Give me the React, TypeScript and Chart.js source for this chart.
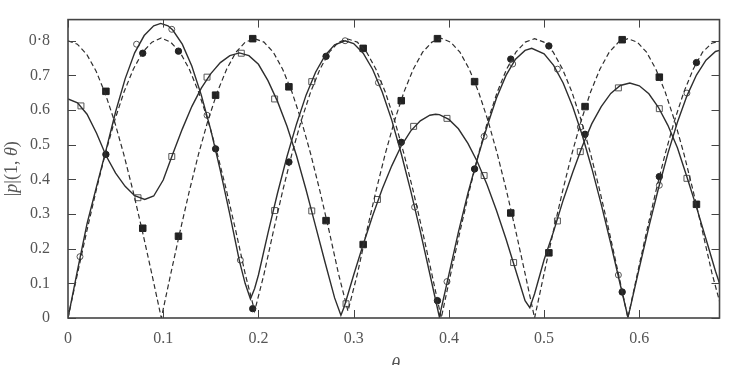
import React, { useEffect, useRef } from 'react';
import { Chart, registerables } from 'chart.js';

Chart.register(...registerables);

// ---- axis ----
const X_MAX = 0.6842;
const Y_MAX = 0.861;
const xTickValues = [0, 0.1, 0.2, 0.3, 0.4, 0.5, 0.6];
const xTickLabels = ['0', '0.1', '0.2', '0.3', '0.4', '0.5', '0.6'];
const yTickValues = [0, 0.1, 0.2, 0.3, 0.4, 0.5, 0.6, 0.7, 0.8];
const yTickLabels = ['0', '0.1', '0.2', '0.3', '0.4', '0.5', '0.6', '0.7', '0·8'];

// ---- dashed curves (shared theta grid) ----
const thetaGrid = [
  0, 0.0098, 0.0196, 0.0294, 0.0392, 0.049, 0.0588, 0.0686, 0.0784, 0.0882,
  0.098, 0.1078, 0.1176, 0.1274, 0.1372, 0.147, 0.1568, 0.1666, 0.1764, 0.1862,
  0.196, 0.2058, 0.2156, 0.2254, 0.2352, 0.245, 0.2548, 0.2646, 0.2744, 0.2842,
  0.294, 0.3038, 0.3136, 0.3234, 0.3332, 0.343, 0.3528, 0.3626, 0.3724, 0.3822,
  0.392, 0.4018, 0.4116, 0.4214, 0.4312, 0.441, 0.4508, 0.4606, 0.4704, 0.4802,
  0.49, 0.4998, 0.5096, 0.5194, 0.5292, 0.539, 0.5488, 0.5586, 0.5684, 0.5782,
  0.588, 0.5978, 0.6076, 0.6174, 0.6272, 0.637, 0.6468, 0.6566, 0.6664, 0.6762,
  0.686,
];
const dashedA = [
  0.8, 0.79, 0.761, 0.713, 0.647, 0.566, 0.47, 0.363, 0.247, 0.125,
  0.0, 0.126, 0.249, 0.366, 0.474, 0.57, 0.652, 0.718, 0.767, 0.796,
  0.806, 0.796, 0.767, 0.718, 0.652, 0.57, 0.474, 0.366, 0.249, 0.126,
  0.02, 0.126, 0.249, 0.366, 0.474, 0.57, 0.652, 0.718, 0.767, 0.796,
  0.807, 0.796, 0.767, 0.718, 0.652, 0.57, 0.474, 0.366, 0.249, 0.126,
  0.0, 0.126, 0.249, 0.366, 0.474, 0.57, 0.652, 0.718, 0.767, 0.796,
  0.806, 0.796, 0.767, 0.718, 0.652, 0.57, 0.474, 0.366, 0.249, 0.13,
  0.03,
];
const dashedB = [
  0.0, 0.126, 0.249, 0.366, 0.474, 0.57, 0.652, 0.718, 0.767, 0.796,
  0.808, 0.796, 0.767, 0.718, 0.652, 0.57, 0.474, 0.366, 0.249, 0.126,
  0.02, 0.126, 0.249, 0.366, 0.474, 0.57, 0.652, 0.718, 0.767, 0.796,
  0.805, 0.796, 0.767, 0.718, 0.652, 0.57, 0.474, 0.366, 0.249, 0.126,
  0.0, 0.126, 0.249, 0.366, 0.474, 0.57, 0.652, 0.718, 0.767, 0.796,
  0.806, 0.796, 0.767, 0.718, 0.652, 0.57, 0.474, 0.366, 0.249, 0.126,
  0.0, 0.126, 0.249, 0.366, 0.474, 0.57, 0.652, 0.718, 0.767, 0.793,
  0.8,
];

// ---- solid curve 1 (open circles) ----
const solidOneTheta = [
  0, 0.01, 0.02, 0.03, 0.04, 0.05, 0.06, 0.07, 0.08, 0.09, 0.0974,
  0.105, 0.11, 0.12, 0.13, 0.14, 0.15, 0.16, 0.17, 0.18, 0.186, 0.1916,
  0.196, 0.2, 0.21, 0.22, 0.23, 0.24, 0.25, 0.26, 0.27, 0.28, 0.291,
  0.3, 0.31, 0.32, 0.33, 0.34, 0.35, 0.36, 0.37, 0.38, 0.39,
  0.4, 0.41, 0.42, 0.43, 0.44, 0.45, 0.46, 0.47, 0.48, 0.487,
  0.5, 0.51, 0.52, 0.53, 0.54, 0.55, 0.56, 0.57, 0.58, 0.588,
  0.59, 0.6, 0.61, 0.62, 0.63, 0.64, 0.65, 0.66, 0.67, 0.68, 0.6842,
];
const solidOne = [
  0, 0.138, 0.272, 0.38, 0.485, 0.595, 0.69, 0.765, 0.815, 0.843, 0.85,
  0.843, 0.831, 0.79, 0.727, 0.643, 0.542, 0.425, 0.298, 0.165, 0.1, 0.055,
  0.085, 0.124, 0.245, 0.36, 0.466, 0.56, 0.643, 0.709, 0.758, 0.788, 0.8,
  0.792, 0.764, 0.717, 0.652, 0.571, 0.474, 0.366, 0.25, 0.127, 0.003,
  0.125, 0.248, 0.36, 0.46, 0.552, 0.635, 0.7, 0.747, 0.772, 0.778,
  0.762, 0.729, 0.678, 0.61, 0.528, 0.433, 0.328, 0.215, 0.096, 0.003,
  0.024, 0.145, 0.263, 0.373, 0.475, 0.565, 0.641, 0.701, 0.744, 0.769, 0.772,
];

// ---- solid curve 2 (open squares) ----
const solidTwoTheta = [
  0, 0.01, 0.02, 0.03, 0.04, 0.05, 0.06, 0.07, 0.0806, 0.09,
  0.1, 0.11, 0.12, 0.13, 0.14, 0.15, 0.16, 0.17, 0.18, 0.19,
  0.2, 0.21, 0.22, 0.23, 0.24, 0.25, 0.26, 0.27, 0.28, 0.2866,
  0.29, 0.3, 0.31, 0.32, 0.33, 0.34, 0.35, 0.36, 0.37, 0.38, 0.386,
  0.39, 0.4, 0.41, 0.42, 0.43, 0.44, 0.45, 0.46, 0.47, 0.48, 0.485,
  0.49, 0.5, 0.51, 0.52, 0.53, 0.54, 0.55, 0.56, 0.57, 0.58, 0.59,
  0.6, 0.61, 0.62, 0.63, 0.64, 0.65, 0.66, 0.67, 0.68, 0.6842,
];
const solidTwo = [
  0.632, 0.621, 0.588, 0.533, 0.468, 0.418, 0.38, 0.353, 0.342, 0.352,
  0.398, 0.473, 0.545, 0.61, 0.663, 0.705, 0.737, 0.757, 0.765, 0.757,
  0.732, 0.685, 0.625, 0.553, 0.468, 0.37, 0.265, 0.16, 0.058, 0.008,
  0.032, 0.124, 0.212, 0.296, 0.372, 0.439, 0.497, 0.54, 0.569, 0.585, 0.588,
  0.587, 0.573, 0.546, 0.504, 0.45, 0.385, 0.31, 0.228, 0.139, 0.05, 0.03,
  0.07, 0.168, 0.25, 0.34, 0.42, 0.495, 0.56, 0.61, 0.648, 0.671, 0.678,
  0.67, 0.647, 0.608, 0.556, 0.491, 0.407, 0.32, 0.228, 0.135, 0.1,
];

// ---- markers ----
const openCircleTheta = [0.0126, 0.072, 0.109, 0.146, 0.181, 0.291, 0.326, 0.364, 0.398, 0.437, 0.467, 0.514, 0.538, 0.578, 0.621, 0.65];
const openCircleP = [0.177, 0.79, 0.833, 0.585, 0.167, 0.8, 0.679, 0.32, 0.105, 0.524, 0.733, 0.718, 0.551, 0.124, 0.383, 0.649];

const openSquareTheta = [0.0136, 0.0735, 0.109, 0.146, 0.182, 0.217, 0.217, 0.256, 0.256, 0.292, 0.325, 0.363, 0.398, 0.437, 0.468, 0.514, 0.538, 0.578, 0.621, 0.65];
const openSquareP = [0.612, 0.347, 0.466, 0.695, 0.764, 0.632, 0.31, 0.682, 0.309, 0.041, 0.342, 0.553, 0.576, 0.411, 0.16, 0.28, 0.48, 0.664, 0.604, 0.403];

const filledCircleTheta = [0.0398, 0.0785, 0.116, 0.155, 0.194, 0.232, 0.271, 0.35, 0.388, 0.427, 0.465, 0.505, 0.543, 0.582, 0.621, 0.66];
const filledCircleP = [0.472, 0.764, 0.77, 0.488, 0.027, 0.45, 0.755, 0.507, 0.05, 0.43, 0.747, 0.785, 0.53, 0.075, 0.408, 0.737];

const filledSquareTheta = [0.0398, 0.0785, 0.116, 0.155, 0.194, 0.232, 0.271, 0.31, 0.31, 0.35, 0.388, 0.427, 0.465, 0.505, 0.543, 0.582, 0.621, 0.66];
const filledSquareP = [0.654, 0.259, 0.236, 0.643, 0.806, 0.667, 0.281, 0.778, 0.212, 0.627, 0.806, 0.682, 0.303, 0.188, 0.61, 0.803, 0.695, 0.328];

const pts = (xs: number[], ys: number[]) => xs.map((x, i) => ({ x, y: ys[i] }));

const FONT = '"Liberation Serif", "DejaVu Serif", serif';
const LINE = '#2e2e2e';
const TEXT = '#555555';

const framePlugin = {
  id: 'frameTicks',
  afterDatasetsDraw(chart: any) {
    const { ctx, chartArea: a, scales } = chart;
    const xs = scales.x;
    const ys = scales.y;
    ctx.save();
    ctx.strokeStyle = '#444444';
    ctx.lineWidth = 1;
    const L = 8;
    ctx.beginPath();
    xTickValues.forEach((v) => {
      const px = Math.round(xs.getPixelForValue(v)) + 0.5;
      ctx.moveTo(px, a.bottom);
      ctx.lineTo(px, a.bottom - L);
      ctx.moveTo(px, a.top);
      ctx.lineTo(px, a.top + L);
    });
    yTickValues.forEach((v) => {
      const py = Math.round(ys.getPixelForValue(v)) + 0.5;
      ctx.moveTo(a.left, py);
      ctx.lineTo(a.left + L, py);
      ctx.moveTo(a.right, py);
      ctx.lineTo(a.right - L, py);
    });
    ctx.stroke();
    ctx.lineWidth = 1.6;
    ctx.strokeRect(a.left, a.top, a.right - a.left, a.bottom - a.top);
    ctx.restore();
  },
  afterDraw(chart: any) {
    const { ctx, chartArea: a } = chart;
    ctx.save();
    ctx.fillStyle = TEXT;
    // y axis title
    const pieces: [string, boolean][] = [['|', false], ['p', true], ['|(1, ', false], ['θ', true], [')', false]];
    const size = 18;
    let total = 0;
    const widths = pieces.map(([t, it]) => {
      ctx.font = `${it ? 'italic ' : ''}${size}px ${FONT}`;
      const w = ctx.measureText(t).width;
      total += w;
      return w;
    });
    ctx.translate(12, (a.top + a.bottom) / 2);
    ctx.rotate(-Math.PI / 2);
    ctx.textBaseline = 'middle';
    ctx.textAlign = 'left';
    let cx = -total / 2;
    pieces.forEach(([t, it], i) => {
      ctx.font = `${it ? 'italic ' : ''}${size}px ${FONT}`;
      ctx.fillText(t, cx, 0);
      cx += widths[i];
    });
    ctx.restore();
    // x axis title
    ctx.save();
    ctx.fillStyle = TEXT;
    ctx.font = `italic ${size}px ${FONT}`;
    ctx.textAlign = 'center';
    ctx.textBaseline = 'top';
    ctx.fillText('θ', (a.left + a.right) / 2 + 2, 356);
    ctx.restore();
  },
};

export default function App() {
  const ref = useRef<HTMLCanvasElement | null>(null);
  useEffect(() => {
    if (!ref.current) return;
    const lineDs = (data: any[], dashed: boolean) => ({
      type: 'scatter',
      data,
      showLine: true,
      borderColor: LINE,
      borderWidth: dashed ? 1.2 : 1.4,
      borderDash: dashed ? [5, 3] : [],
      pointRadius: 0,
      tension: 0,
      fill: false,
    });
    const markDs = (data: any[], style: string, r: number, filled: boolean) => ({
      type: 'scatter',
      data,
      showLine: false,
      pointStyle: style,
      pointRadius: r,
      pointBorderWidth: 1,
      pointBorderColor: filled ? '#222222' : '#555555',
      pointBackgroundColor: filled ? '#222222' : 'rgba(255,255,255,0)',
    });
    const chart = new Chart(ref.current, {
      type: 'scatter',
      data: {
        datasets: [
          lineDs(pts(thetaGrid, dashedA), true),
          lineDs(pts(thetaGrid, dashedB), true),
          lineDs(pts(solidOneTheta, solidOne), false),
          lineDs(pts(solidTwoTheta, solidTwo), false),
          markDs(pts(openCircleTheta, openCircleP), 'circle', 3, false),
          markDs(pts(openSquareTheta, openSquareP), 'rect', 4.2, false),
          markDs(pts(filledCircleTheta, filledCircleP), 'circle', 3.2, true),
          markDs(pts(filledSquareTheta, filledSquareP), 'rect', 4.6, true),
        ] as any,
      },
      options: {
        responsive: false,
        animation: false,
        devicePixelRatio: 1,
        layout: { padding: { top: 6, right: 10.5, left: 0, bottom: 0 } },
        plugins: { legend: { display: false }, tooltip: { enabled: false } },
        scales: {
          x: {
            type: 'linear',
            min: 0,
            max: X_MAX,
            grid: { display: false },
            border: { display: false },
            afterBuildTicks: (s: any) => {
              s.ticks = xTickValues.map((v) => ({ value: v }));
            },
            afterFit: (s: any) => {
              s.height = 47;
            },
            ticks: {
              autoSkip: false,
              maxRotation: 0,
              padding: 3,
              color: TEXT,
              font: { family: FONT, size: 16 },
              callback: (_v: any, i: number) => xTickLabels[i],
            },
          },
          y: {
            type: 'linear',
            min: 0,
            max: Y_MAX,
            grid: { display: false },
            border: { display: false },
            afterBuildTicks: (s: any) => {
              s.ticks = yTickValues.map((v) => ({ value: v }));
            },
            afterFit: (s: any) => {
              s.width = 68;
            },
            ticks: {
              autoSkip: false,
              padding: 10,
              color: TEXT,
              font: { family: FONT, size: 16 },
              callback: (_v: any, i: number) => yTickLabels[i],
            },
          },
        },
      } as any,
      plugins: [framePlugin],
    });
    return () => chart.destroy();
  }, []);
  return (
    <div style={{ position: 'absolute', left: 0, top: 0, width: 730, height: 365, background: '#ffffff' }}>
      <canvas ref={ref} width={730} height={365} style={{ display: 'block', width: 730, height: 365 }} />
    </div>
  );
}
